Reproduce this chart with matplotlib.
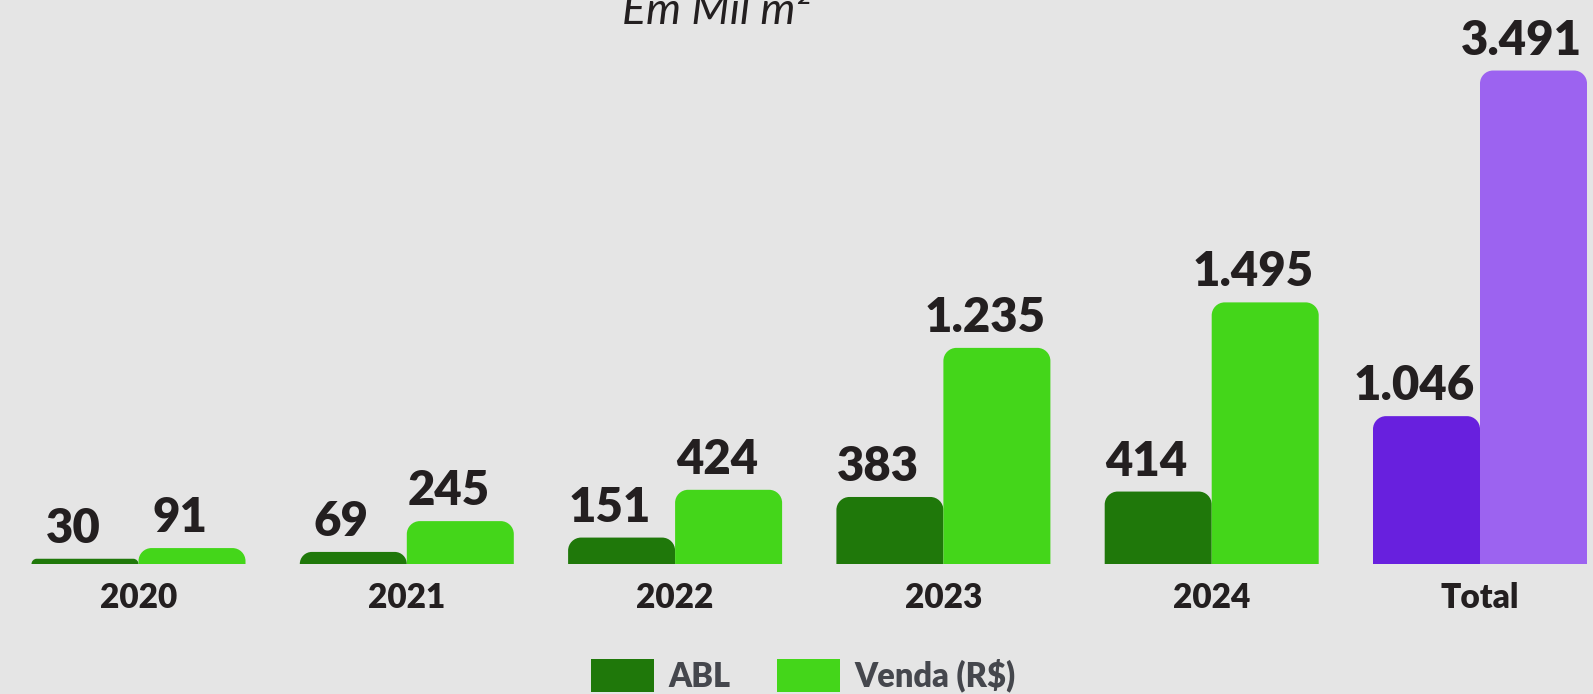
import matplotlib
matplotlib.use('Agg')
import matplotlib.pyplot as plt
from matplotlib.path import Path
from matplotlib.patches import PathPatch, Patch

# ---------------- data ----------------
years = ['2020', '2021', '2022', '2023', '2024']
abl = [30, 69, 151, 383, 414]
venda = [91, 245, 424, 1235, 1495]
total_label = 'Total'
total_abl = 1046
total_venda = 3491
series_names = ['ABL', 'Venda (R$)']
title = 'Em Mil m²'

# ---------------- style ----------------
BG = '#E5E5E5'
C_ABL = '#1F780A'
C_VENDA = '#44D61A'
C_TABL = '#6820DE'
C_TVENDA = '#9C63F0'
TXT = '#231F20'
LEG_TXT = '#45474D'
FONT = 'Lato'
WEIGHT = 'heavy'

W, H = 1593, 694
fig = plt.figure(figsize=(W / 100, H / 100), dpi=100)
fig.patch.set_facecolor(BG)

base = 130 / H
ax = fig.add_axes([0, base, 1, 1 - base])
ax2 = ax.twinx()
for a in (ax, ax2):
    a.set_facecolor('none')
    for s in a.spines.values():
        s.set_visible(False)
    a.set_yticks([])

group_px = 268.3
x0_px = 138.5
ax.set_xlim(-x0_px / group_px, (W - x0_px) / group_px)
ax.set_ylim(0, 3223)
ax2.set_ylim(0, 3990)

bw = 107 / group_px
R_PX = 13.0


def rounded_bar(axis, xc, h, color):
    """Bar from 0 to h centred at xc with rounded top corners."""
    xl, xr = xc - bw / 2, xc + bw / 2
    xlim = axis.get_xlim()
    ylim = axis.get_ylim()
    ppx = axis.bbox.width / (xlim[1] - xlim[0])
    ppy = axis.bbox.height / (ylim[1] - ylim[0])
    r = min(R_PX, h * ppy)
    rx = r / ppx
    ry = r / ppy
    k = 0.5523
    verts = [
        (xl, 0), (xl, h - ry),
        (xl, h - ry + k * ry), (xl + rx - k * rx, h), (xl + rx, h),
        (xr - rx, h),
        (xr - rx + k * rx, h), (xr, h - ry + k * ry), (xr, h - ry),
        (xr, 0), (xl, 0)
    ]
    codes = [Path.MOVETO, Path.LINETO,
             Path.CURVE4, Path.CURVE4, Path.CURVE4,
             Path.LINETO,
             Path.CURVE4, Path.CURVE4, Path.CURVE4,
             Path.LINETO, Path.CLOSEPOLY]
    axis.add_patch(PathPatch(Path(verts, codes), facecolor=color,
                             edgecolor='none', lw=0))


def fmt(v):
    return f"{v:,}".replace(',', '.')


def label(axis, xc, h, v):
    axis.annotate(fmt(v), xy=(xc, h), xytext=(-8.5, 11.5),
                  textcoords='offset points', ha='center', va='baseline',
                  fontsize=34, fontweight=WEIGHT, family=FONT, color=TXT)


for i, (a_v, v_v) in enumerate(zip(abl, venda)):
    rounded_bar(ax, i - bw / 2, a_v, C_ABL)
    rounded_bar(ax, i + bw / 2, v_v, C_VENDA)
    label(ax, i - bw / 2, a_v, a_v)
    label(ax, i + bw / 2, v_v, v_v)

ti = len(years)
rounded_bar(ax2, ti - bw / 2, total_abl, C_TABL)
rounded_bar(ax2, ti + bw / 2, total_venda, C_TVENDA)
label(ax2, ti - bw / 2, total_abl, total_abl)
label(ax2, ti + bw / 2, total_venda, total_venda)

ax.set_xticks(range(len(years) + 1))
ax.set_xticklabels(years + [total_label], fontsize=24, fontweight=WEIGHT,
                   family=FONT, color=TXT)
ax.tick_params(axis='x', length=0, pad=13)
ax2.tick_params(axis='x', length=0)

fig.text(716 / W, 1 - 24 / H, title, ha='center', va='baseline',
         fontsize=32, fontstyle='italic', family=FONT, color=TXT)

handles = [Patch(facecolor=C_ABL, edgecolor='none'),
           Patch(facecolor=C_VENDA, edgecolor='none')]
fig.legend(handles, series_names, loc='upper left',
           bbox_to_anchor=(591 / W, 1 - 659 / H),
           bbox_transform=fig.transFigure, ncol=2, frameon=False,
           handlelength=1.94, handleheight=1.2, handletextpad=0.43,
           columnspacing=1.42, borderpad=0, borderaxespad=0,
           prop={'family': FONT, 'weight': WEIGHT, 'size': 23.5},
           labelcolor=LEG_TXT)

fig.savefig('out.png', dpi=100, facecolor=BG)
